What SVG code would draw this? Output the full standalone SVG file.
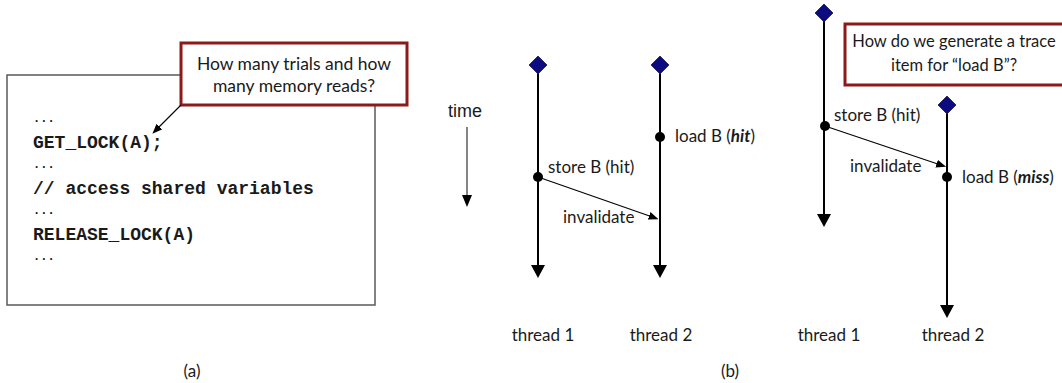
<svg xmlns="http://www.w3.org/2000/svg" width="1062" height="383" viewBox="0 0 1062 383">
  <style>
    .code { font-family: "Liberation Mono", "Courier New", monospace; font-weight: bold; font-size: 18px; fill: #1a1a1a; }
    .dots { font-family: "Liberation Mono", "Courier New", monospace; font-weight: bold; font-size: 12px; fill: #1a1a1a; }
    .lbl { font-family: Lato, "Open Sans", sans-serif; font-size: 17px; fill: #1a1a1a; }
    .call { font-family: Lato, "Open Sans", sans-serif; font-size: 17.5px; fill: #1a1a1a; text-anchor: middle; }
    .call2 { font-family: Lato, "Open Sans", sans-serif; font-size: 16.5px; fill: #1a1a1a; text-anchor: middle; }
    .arial { font-family: "Liberation Sans", Arial, sans-serif; font-size: 18px; fill: #1a1a1a; }
    .callout { fill: #ffffff; stroke: #8b1a1a; stroke-width: 3; }
    .thread { stroke: #000000; stroke-width: 2; fill: none; }
    .thin { stroke: #000000; stroke-width: 1.1; fill: none; }
    .diamond { fill: #0c0c80; stroke: #1a1a4a; stroke-width: 0.8; }
    .dot { fill: #000000; }
  </style>
  <defs>
    <marker id="big" markerUnits="userSpaceOnUse" viewBox="0 0 13 14" refX="2" refY="7" markerWidth="13" markerHeight="14" orient="auto">
      <path d="M0,0 L13,7 L0,14 z" fill="#000"/>
    </marker>
    <marker id="mid" markerUnits="userSpaceOnUse" viewBox="0 0 12 10" refX="2" refY="5" markerWidth="12" markerHeight="10" orient="auto">
      <path d="M0,0 L12,5 L0,10 z" fill="#000"/>
    </marker>
    <marker id="small" markerUnits="userSpaceOnUse" viewBox="0 0 10 8" refX="2" refY="4" markerWidth="10" markerHeight="8" orient="auto">
      <path d="M0,0 L10,4 L0,8 z" fill="#000"/>
    </marker>
  </defs>

  <!-- (a) code box -->
  <g id="code-box">
    <rect x="7" y="75" width="368" height="230" fill="#ffffff" stroke="#595959" stroke-width="1.5"/>
    <text class="dots" x="33" y="122">...</text>
    <text class="code" x="33" y="148">GET_LOCK(A);</text>
    <text class="dots" x="33" y="168">...</text>
    <text class="code" x="33" y="194">// access shared variables</text>
    <text class="dots" x="33" y="214">...</text>
    <text class="code" x="33" y="240">RELEASE_LOCK(A)</text>
    <text class="dots" x="33" y="260">...</text>
  </g>

  <g id="callout-a">
    <rect class="callout" x="181" y="43" width="226" height="62"/>
    <text class="call" x="294" y="70">How many trials and how</text>
    <text class="call" x="294" y="92">many memory reads?</text>
  </g>

  <text id="label-a" class="lbl" x="192" y="377" text-anchor="middle">(a)</text>

  <!-- (b) left -->
  <g id="time">
    <text class="arial" x="448" y="117">time</text>
  </g>

  <g id="connectors">
    <line x1="181" y1="105" x2="158" y2="128" class="thin" marker-end="url(#small)"/>
    <line x1="467" y1="127" x2="467" y2="197" stroke="#333" stroke-width="1.2" marker-end="url(#mid)"/>
    <line x1="538" y1="65" x2="538" y2="267" class="thread" marker-end="url(#big)"/>
    <line x1="660" y1="65" x2="660" y2="267" class="thread" marker-end="url(#big)"/>
    <line x1="538" y1="177" x2="651" y2="216.5" class="thin" marker-end="url(#small)"/>
    <line x1="824" y1="13" x2="824" y2="216" class="thread" marker-end="url(#big)"/>
    <line x1="947" y1="105" x2="947" y2="307" class="thread" marker-end="url(#big)"/>
    <line x1="825" y1="126" x2="938.5" y2="164.3" class="thin" marker-end="url(#small)"/>
  </g>

  <g id="thread1-left">
    <path class="diamond" d="M538,56 L547,65 L538,74 L529,65 z"/>
    <circle class="dot" cx="538" cy="177" r="5"/>
    <text class="lbl" x="548" y="173">store B (hit)</text>
    <text class="lbl" x="543" y="341" text-anchor="middle">thread 1</text>
  </g>
  <g id="thread2-left">
    <path class="diamond" d="M660,56 L669,65 L660,74 L651,65 z"/>
    <circle class="dot" cx="660" cy="137" r="5"/>
    <text class="lbl" x="675" y="142">load B (<tspan font-weight="bold" font-style="italic">hit</tspan>)</text>
    <text class="lbl" x="661" y="341" text-anchor="middle">thread 2</text>
  </g>
  <text id="invalidate-left" class="lbl" x="563" y="223">invalidate</text>

  <!-- (b) right -->
  <g id="thread1-right">
    <path class="diamond" d="M824,4 L833,13 L824,22 L815,13 z"/>
    <circle class="dot" cx="825" cy="126" r="5"/>
    <text class="lbl" x="834" y="121">store B (hit)</text>
    <text class="lbl" x="829" y="341" text-anchor="middle">thread 1</text>
  </g>
  <g id="thread2-right">
    <path class="diamond" d="M947,96 L956,105 L947,114 L938,105 z"/>
    <circle class="dot" cx="947" cy="177" r="5"/>
    <text class="lbl" x="962" y="183">load B (<tspan font-weight="bold" font-style="italic">miss</tspan>)</text>
    <text class="lbl" x="953" y="341" text-anchor="middle">thread 2</text>
  </g>
  <text id="invalidate-right" class="lbl" x="850" y="172">invalidate</text>

  <g id="callout-b">
    <rect class="callout" x="845" y="24" width="240" height="61"/>
    <text class="call2" x="954" y="47">How do we generate a trace</text>
    <text class="call2" x="954" y="71">item for “load B”?</text>
  </g>

  <text id="label-b" class="lbl" x="730" y="377" text-anchor="middle">(b)</text>
</svg>
